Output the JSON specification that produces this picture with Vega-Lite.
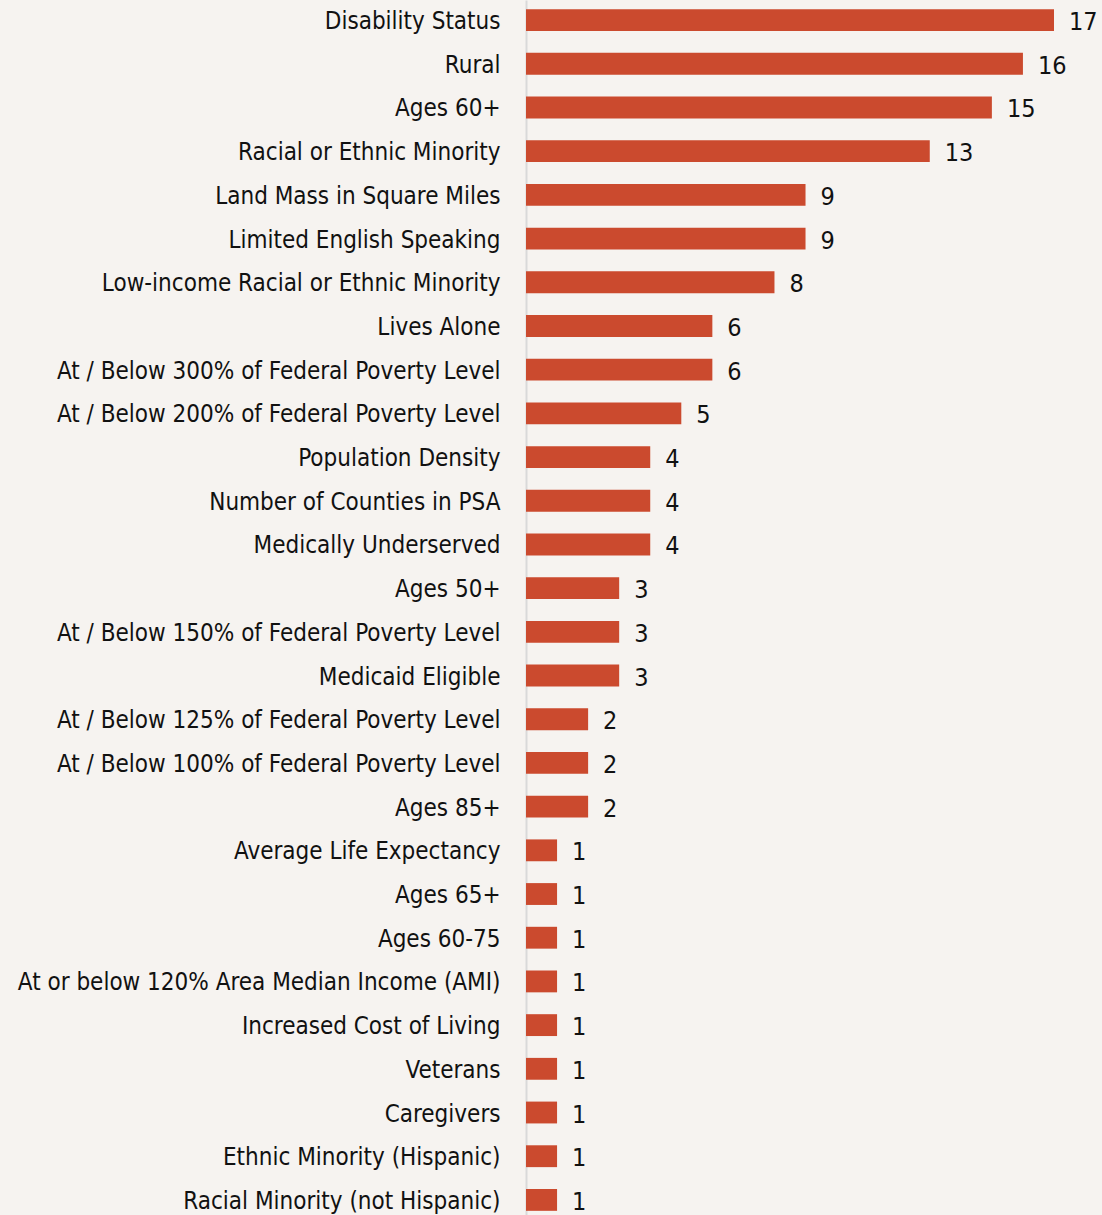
{
  "$schema": "https://vega.github.io/schema/vega-lite/v6.json",
  "autosize": {"type": "none"},
  "padding": {"left": 526, "top": 0, "right": 48, "bottom": 0},
  "width": 528,
  "height": 1220,
  "background": "#f6f3f0",
  "config": {
    "view": {"stroke": null},
    "font": "DejaVu Sans Condensed, Liberation Sans"
  },
  "data": {
    "values": [
      {"category": "Disability Status", "count": 17},
      {"category": "Rural", "count": 16},
      {"category": "Ages 60+", "count": 15},
      {"category": "Racial or Ethnic Minority", "count": 13},
      {"category": "Land Mass in Square Miles", "count": 9},
      {"category": "Limited English Speaking", "count": 9},
      {"category": "Low-income Racial or Ethnic Minority", "count": 8},
      {"category": "Lives Alone", "count": 6},
      {"category": "At / Below 300% of Federal Poverty Level", "count": 6},
      {"category": "At / Below 200% of Federal Poverty Level", "count": 5},
      {"category": "Population Density", "count": 4},
      {"category": "Number of Counties in PSA", "count": 4},
      {"category": "Medically Underserved", "count": 4},
      {"category": "Ages 50+", "count": 3},
      {"category": "At / Below 150% of Federal Poverty Level", "count": 3},
      {"category": "Medicaid Eligible", "count": 3},
      {"category": "At / Below 125% of Federal Poverty Level", "count": 2},
      {"category": "At / Below 100% of Federal Poverty Level", "count": 2},
      {"category": "Ages 85+", "count": 2},
      {"category": "Average Life Expectancy", "count": 1},
      {"category": "Ages 65+", "count": 1},
      {"category": "Ages 60-75", "count": 1},
      {"category": "At or below 120% Area Median Income (AMI)", "count": 1},
      {"category": "Increased Cost of Living", "count": 1},
      {"category": "Veterans", "count": 1},
      {"category": "Caregivers", "count": 1},
      {"category": "Ethnic Minority (Hispanic)", "count": 1},
      {"category": "Racial Minority (not Hispanic)", "count": 1}
    ]
  },
  "encoding": {
    "y": {
      "field": "category",
      "type": "nominal",
      "sort": null,
      "scale": {"paddingInner": 0.5, "paddingOuter": 0.21},
      "axis": {
        "title": null,
        "ticks": false,
        "domainColor": "#d9d9d9",
        "domainWidth": 2,
        "labelFontSize": 24,
        "labelColor": "#111111",
        "labelPadding": 26,
        "labelOffset": 2,
        "labelFont": "DejaVu Sans Condensed, Liberation Sans",
        "labelLimit": 600
      }
    },
    "x": {
      "field": "count",
      "type": "quantitative",
      "scale": {"domain": [0, 17], "nice": false},
      "axis": null
    }
  },
  "layer": [
    {"mark": {"type": "bar", "color": "#cb4a2e"}},
    {
      "mark": {"type": "text", "align": "left", "dx": 15, "dy": 2, "fontSize": 25, "color": "#111111", "baseline": "middle", "font": "DejaVu Sans Condensed, Liberation Sans"},
      "encoding": {"text": {"field": "count", "type": "quantitative"}}
    }
  ]
}
